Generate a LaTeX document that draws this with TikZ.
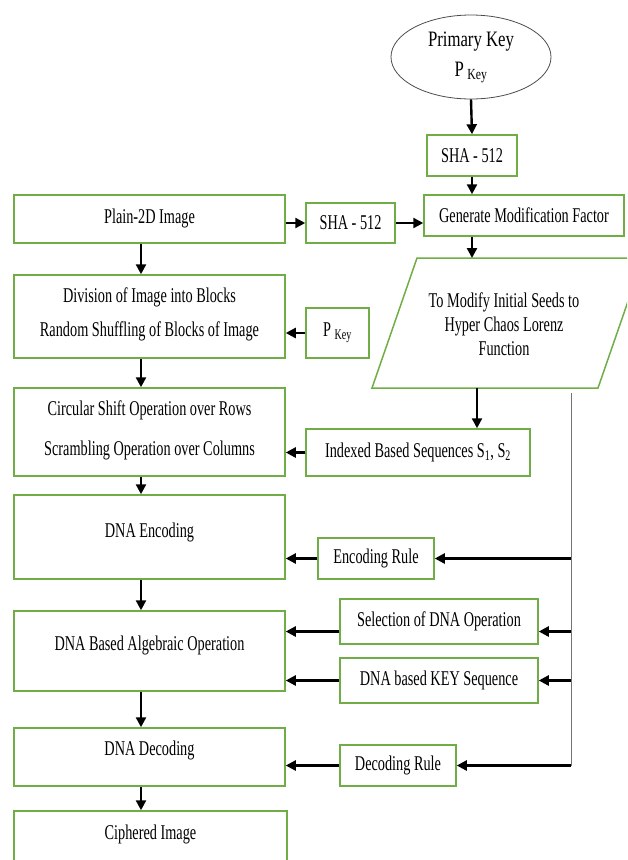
\documentclass[tikz,border=0pt]{standalone}
\usepackage{fontspec}
\setmainfont[FakeStretch=0.68]{Liberation Serif}
\newfontfamily\ovalfont[FakeStretch=0.76]{Liberation Serif}
\usetikzlibrary{arrows.meta, shapes.geometric}
\definecolor{boxgreen}{RGB}{112,173,71}
\def\colwidth{271pt}

\begin{document}
\begin{tikzpicture}[x=1pt,y=-1pt,font=\fontsize{21}{24}\selectfont,
    >={Triangle[length=10pt,width=10pt]}, lift/.style={text depth=#1}]
    \tikzstyle{box}=[draw=boxgreen, line width=1.5pt, inner sep=2pt, align=center]
    \tikzstyle{wide box}=[box, minimum width=\colwidth]
    \tikzstyle{arr}=[->, draw=black, line width=2.4pt]
    \tikzstyle{bus}=[draw=black!55, line width=1pt]
    \useasboundingbox (0,0) rectangle (627,860);
    \clip (0,0) rectangle (627,860);

    % key side
    \node[ellipse, draw=black!70, line width=0.8pt, minimum width=160pt, minimum height=84pt,
          align=center, font=\ovalfont\fontsize{22}{30}\selectfont] (primary) at (471,57)
          {Primary Key\\P\,\textsubscript{Key}};
    \node[box, minimum width=90pt, minimum height=41pt] (shaA) at (472,155.5) {SHA - 512};
    \node[box, minimum width=200pt, minimum height=41pt] (modfac) at (524,215.5) {Generate Modification Factor};
    \node[box, minimum width=89pt, minimum height=40pt] (shaB) at (350.5,223) {SHA - 512};

    % parallelogram
    \coordinate (pBL) at (372,388);
    \coordinate (pTL) at (417,258);
    \coordinate (pTR) at (643,258);
    \coordinate (pBR) at (598,388);
    \coordinate (seedOut) at (477,388);
    \draw[draw=boxgreen, line width=1.5pt] (pBL) -- (pTL) -- (pTR) -- (pBR) -- cycle;
    \node[align=center] (seed) at (504,324) {To Modify Initial Seeds to\\Hyper Chaos Lorenz\\Function};

    \node[box, minimum width=63pt, minimum height=50pt] (pkey) at (337.5,333) {P\,\textsubscript{Key}};
    \node[box, minimum width=224pt, minimum height=47pt] (index) at (418,452.5) {Indexed Based Sequences S\textsubscript{1}, S\textsubscript{2}};
    \node[box, minimum width=116pt, minimum height=41pt] (encrule) at (376,558.5) {Encoding Rule};
    \node[box, minimum width=198pt, minimum height=45pt] (select) at (439,621.5) {Selection of DNA Operation};
    \node[box, minimum width=198pt, minimum height=45pt] (keyseq) at (439,680.5) {DNA based KEY Sequence};
    \node[box, minimum width=116pt, minimum height=41pt] (decrule) at (398,765.5) {Decoding Rule};

    % image side
    \node[wide box, minimum height=48pt, lift=6pt] (plain) at (149.5,219) {Plain-2D Image};
    \node[wide box, minimum height=83pt, lift=8pt] (blocks) at (149.5,316.5)
          {Division of Image into Blocks\\[10pt]Random Shuffling of Blocks of Image};
    \node[wide box, minimum height=88pt, lift=8pt] (shift) at (149.5,432)
          {Circular Shift Operation over Rows\\[16pt]Scrambling Operation over Columns};
    \node[wide box, minimum height=84pt, lift=14pt] (encode) at (149.5,537) {DNA Encoding};
    \node[wide box, minimum height=80pt, lift=16pt] (algebra) at (149.5,651) {DNA Based Algebraic Operation};
    \node[wide box, minimum height=58pt, lift=18pt] (decode) at (149.5,757) {DNA Decoding};
    \node[wide box, minimum width=273pt, minimum height=60pt, lift=18pt] (cipher) at (150.5,841) {Ciphered Image};

    % connectors
    \coordinate (spine) at (141,0);
    \foreach \a/\b in {plain/blocks, blocks/shift, shift/encode, encode/algebra, algebra/decode, decode/cipher}
        \draw[arr] (\a.south -| spine) -- (\b.north -| spine);

    \draw[arr] (primary.south) -- (shaA.north);
    \draw[arr] (shaA.south) -- (shaA.south |- modfac.north);
    \draw[arr] (shaA.south |- modfac.south) -- (shaA.south |- pTL);
    \draw[arr] (plain.east |- shaB) -- (shaB.west);
    \draw[arr] (shaB.east) -- (modfac.west |- shaB);
    \draw[arr] (seedOut) -- (seedOut |- index.north);

    \draw[arr] (pkey.west) -- (blocks.east |- pkey);
    \draw[arr] (index.west) -- (shift.east |- index);
    \draw[arr] (encrule.west) -- (encode.east |- encrule);
    \coordinate (selIn) at ([yshift=-10pt]select.west);
    \draw[arr] (selIn) -- (selIn -| algebra.east);
    \draw[arr] (keyseq.west) -- (algebra.east |- keyseq);
    \draw[arr] (decrule.west) -- (decode.east |- decrule);

    % rule line on the right
    \coordinate (busTop) at (571,393);
    \draw[bus] (busTop) -- (busTop |- decrule);
    \foreach \t in {encrule, keyseq, decrule}
        \draw[arr] (busTop |- \t) -- (\t.east);
    \draw[arr] (busTop |- selIn) -- (selIn -| select.east);
\end{tikzpicture}
\end{document}
